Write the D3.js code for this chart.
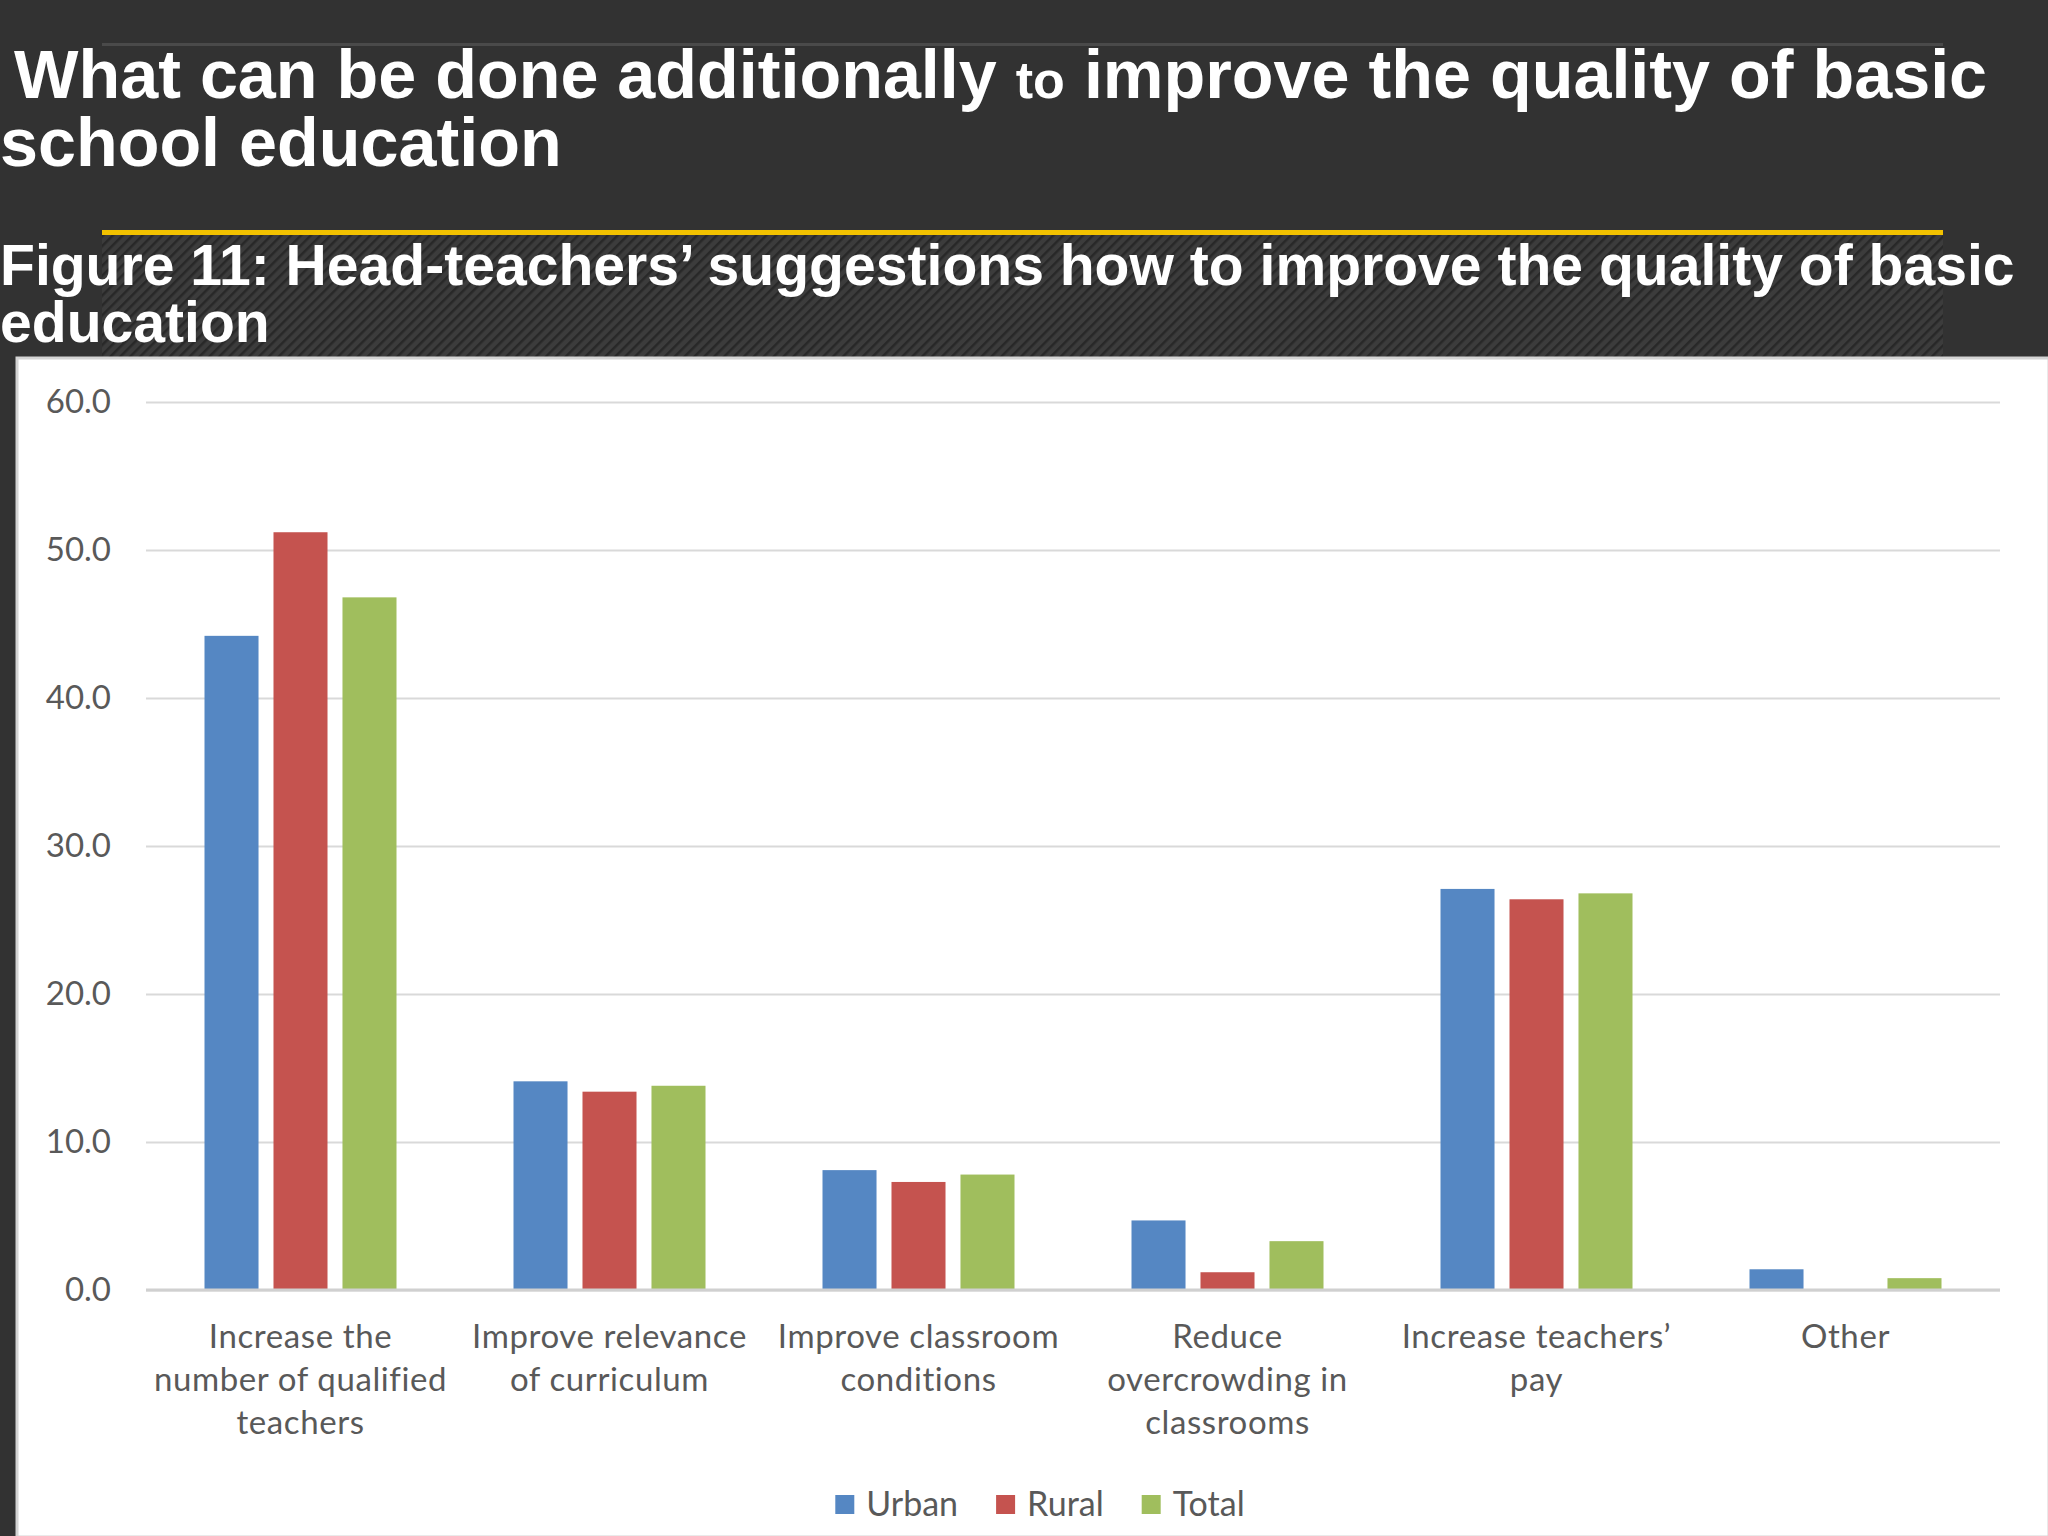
<!DOCTYPE html>
<html>
<head>
<meta charset="utf-8">
<script src="https://cdn.jsdelivr.net/npm/d3@7"></script>
<style>
  body { margin: 0; background: #323232; }
  svg { display: block; }
</style>
</head>
<body>
<script>
var width = 2048;
var height = 1536;

// Data
var categories = [
  ["Increase the", "number of qualified", "teachers"],
  ["Improve relevance", "of curriculum"],
  ["Improve classroom", "conditions"],
  ["Reduce", "overcrowding in", "classrooms"],
  ["Increase teachers\u2019", "pay"],
  ["Other"]
];
var seriesNames = ["Urban", "Rural", "Total"];
var urban = [44.2, 14.1, 8.1, 4.7, 27.1, 1.4];
var rural = [51.2, 13.4, 7.3, 1.2, 26.4, 0];
var total = [46.8, 13.8, 7.8, 3.3, 26.8, 0.8];
var yTicks = [0, 10, 20, 30, 40, 50, 60];
var colors = ["#5587c3", "#c5534f", "#a0be5d"];

var svg = d3.select('body').append('svg')
  .attr('width', width)
  .attr('height', height);

// Slide background
svg.append('rect')
  .attr('width', width).attr('height', height)
  .style('fill', '#323232');

var defs = svg.append('defs');
var pat = defs.append('pattern')
  .attr('id', 'hatch')
  .attr('patternUnits', 'userSpaceOnUse')
  .attr('width', 7).attr('height', 7)
  .attr('patternTransform', 'rotate(45)');
pat.append('rect').attr('width', 7).attr('height', 7).style('fill', '#3c3c3c');
pat.append('line').attr('x1', 1).attr('y1', 0).attr('x2', 1).attr('y2', 7)
  .style('stroke', '#282828').style('stroke-width', 3);

// thin rule at top
svg.append('rect')
  .attr('x', 102).attr('y', 43).attr('width', 1841).attr('height', 3)
  .style('fill', '#4a4a4a');

// hatched band and yellow rule
svg.append('rect')
  .attr('x', 102).attr('y', 234).attr('width', 1841).attr('height', 124)
  .style('fill', 'url(#hatch)');
svg.append('rect')
  .attr('x', 102).attr('y', 230).attr('width', 1841).attr('height', 5)
  .style('fill', '#f2c200');

// Headline: first line is three pieces, the small "to" in the middle
var titleFont = '"Liberation Sans", Arial, sans-serif';
var bigSize = 68.3;
var pieces = [
  {text: 'What can be done additionally', size: bigSize},
  {text: 'to', size: 52},
  {text: 'improve the quality of basic', size: bigSize}
];
var spaceW = 0.278 * bigSize;
var cursor = 14;
pieces.forEach(function(p, i) {
  var t = svg.append('text')
    .attr('x', cursor).attr('y', 98)
    .style('font-family', titleFont)
    .style('font-weight', 'bold')
    .style('font-size', p.size + 'px')
    .style('fill', '#ffffff')
    .text(p.text);
  cursor += t.node().getComputedTextLength() + spaceW;
});
svg.append('text')
  .attr('x', 0).attr('y', 166)
  .style('font-family', titleFont)
  .style('font-weight', 'bold')
  .style('font-size', bigSize + 'px')
  .style('fill', '#ffffff')
  .text('school education');

var figLines = [
  'Figure 11: Head-teachers\u2019 suggestions how to improve the quality of basic',
  'education'
];
svg.append('g').selectAll('text')
  .data(figLines)
  .enter().append('text')
  .attr('x', 0)
  .attr('y', function(d, i) { return 285 + i * 57; })
  .style('font-family', titleFont)
  .style('font-weight', 'bold')
  .style('font-size', '57.1px')
  .style('fill', '#ffffff')
  .text(function(d) { return d; });

// Chart panel
svg.append('rect')
  .attr('x', 17).attr('y', 358).attr('width', width - 16).attr('height', height - 357)
  .style('fill', '#ffffff')
  .style('stroke', '#d4d4d4')
  .style('stroke-width', 3);

var plotLeft = 146, plotRight = 2000, plotTop = 402, plotBottom = 1290;
var textFont = 'Lato, "Open Sans", sans-serif';
var textColor = '#595959';

var x0 = d3.scaleBand()
  .domain(d3.range(categories.length))
  .range([plotLeft, plotRight])
  .padding(0);

var groupWidth = 192;
var x1 = d3.scaleBand()
  .domain(seriesNames)
  .range([0, groupWidth])
  .paddingInner(0.217)
  .paddingOuter(0);

var y = d3.scaleLinear()
  .domain([0, 60])
  .range([plotBottom, plotTop]);

// gridlines + y labels
var yAxis = d3.axisLeft(y)
  .tickValues(yTicks)
  .tickFormat(d3.format('.1f'))
  .tickSize(-(plotRight - plotLeft))
  .tickPadding(35);

var gy = svg.append('g')
  .attr('transform', 'translate(' + plotLeft + ',0)')
  .call(yAxis);
gy.select('.domain').remove();
gy.selectAll('.tick line')
  .style('stroke', '#d9d9d9')
  .style('stroke-width', 2);
gy.selectAll('.tick text')
  .style('font-family', textFont)
  .style('font-size', '33px')
  .style('fill', textColor);

// bars
var seriesData = [urban, rural, total];
var groups = svg.append('g').selectAll('g')
  .data(categories.map(function(c, i) { return i; }))
  .enter().append('g')
  .attr('transform', function(i) {
    return 'translate(' + (x0(i) + (x0.bandwidth() - groupWidth) / 2) + ',0)';
  });

groups.selectAll('rect')
  .data(function(i) {
    return seriesNames.map(function(s, k) {
      return {series: s, value: seriesData[k][i], color: colors[k]};
    });
  })
  .enter().append('rect')
  .attr('x', function(d) { return x1(d.series); })
  .attr('width', x1.bandwidth())
  .attr('y', function(d) { return y(d.value); })
  .attr('height', function(d) { return y(0) - y(d.value); })
  .style('fill', function(d) { return d.color; });

// baseline
svg.append('line')
  .attr('x1', plotLeft).attr('x2', plotRight)
  .attr('y1', y(0)).attr('y2', y(0))
  .style('stroke', '#d0d0d0')
  .style('stroke-width', 3);

// category labels
var xl = svg.append('g').selectAll('text')
  .data(categories)
  .enter().append('text')
  .attr('text-anchor', 'middle')
  .style('font-family', textFont)
  .style('font-size', '33px')
  .style('letter-spacing', '0.6px')
  .style('fill', textColor);
xl.each(function(lines, i) {
  var t = d3.select(this);
  lines.forEach(function(line, j) {
    t.append('tspan')
      .attr('x', x0(i) + x0.bandwidth() / 2)
      .attr('y', y(0) + 58 + j * 43)
      .text(line);
  });
});

// legend
var legend = svg.append('g');
var items = legend.selectAll('g')
  .data(seriesNames)
  .enter().append('g');
items.append('rect')
  .attr('width', 19).attr('height', 19)
  .attr('y', -9)
  .style('fill', function(d, i) { return colors[i]; });
items.append('text')
  .attr('x', 31)
  .attr('dy', '0.36em')
  .style('font-family', textFont)
  .style('font-size', '34px')
  .style('fill', textColor)
  .text(function(d) { return d; });

var legendGap = 38;
var offsets = [], acc = 0;
items.each(function() {
  offsets.push(acc);
  acc += 31 + d3.select(this).select('text').node().getComputedTextLength() + legendGap;
});
var legendWidth = acc - legendGap;
var legendLeft = 1040 - legendWidth / 2;
items.attr('transform', function(d, i) {
  return 'translate(' + (legendLeft + offsets[i]) + ',1504)';
});
</script>
</body>
</html>
